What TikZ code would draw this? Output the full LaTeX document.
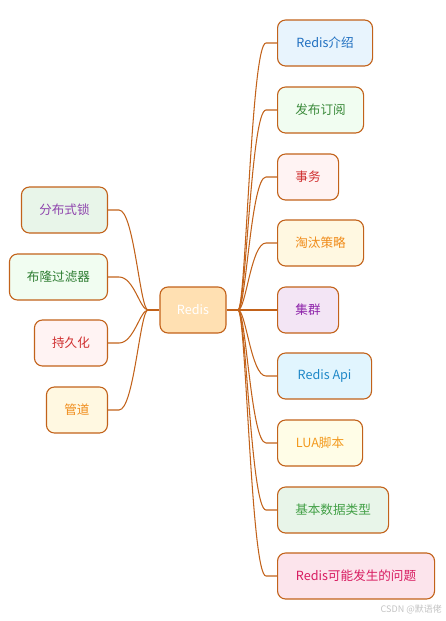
\documentclass[tikz,border=0pt]{standalone}
\usepackage{fontspec}
\setmainfont{Noto Sans CJK SC}
\usetikzlibrary{calc}
\definecolor{edge}{HTML}{C2621A}
\definecolor{fcenter}{HTML}{FFE0B2}
\definecolor{fblue}{RGB}{232,244,253}\definecolor{tblue}{RGB}{31,111,192}
\definecolor{fgreen}{RGB}{241,253,241}\definecolor{tgreen}{RGB}{58,138,58}
\definecolor{fred}{RGB}{255,243,243}\definecolor{tred}{RGB}{208,48,48}
\definecolor{forange}{RGB}{255,248,225}\definecolor{torange}{RGB}{240,140,26}
\definecolor{fpurple}{RGB}{243,229,245}\definecolor{tpurple}{RGB}{142,36,170}
\definecolor{fcyan}{RGB}{225,245,254}\definecolor{tcyan}{RGB}{30,136,200}
\definecolor{fyellow}{RGB}{255,253,231}\definecolor{tyellow}{RGB}{243,154,30}
\definecolor{fmint}{RGB}{232,245,233}\definecolor{tmint}{RGB}{67,160,71}
\definecolor{fpink}{RGB}{252,228,236}\definecolor{tpink}{RGB}{216,27,96}
\definecolor{tviolet}{RGB}{142,68,173}
\definecolor{tdkgreen}{RGB}{46,125,50}
\definecolor{wmgray}{RGB}{195,195,195}
\tikzset{
  box/.style={draw=edge, line width=1.1pt, rounded corners=8pt, minimum height=46pt, inner sep=0pt, font=\fontsize{12.6}{14}\selectfont},
  conn/.style={draw=edge, line width=1.05pt},
}
\begin{document}
\begin{tikzpicture}[x=1pt,y=-1pt]
\useasboundingbox (0,0) rectangle (446,621);
\node[box, fill=fcenter, text=white, minimum width=66pt] (redis) at (193,310) {Redis};
\coordinate (jr) at (238,310);
\coordinate (jl) at (148,310);
% right
\node[box, anchor=west, fill=fblue, text=tblue, minimum width=95pt] (r1) at (277,43) {Redis介绍};
\node[box, anchor=west, fill=fgreen, text=tgreen, minimum width=86pt] (r2) at (277,110) {发布订阅};
\node[box, anchor=west, fill=fred, text=tred, minimum width=61pt] (r3) at (277,177) {事务};
\node[box, anchor=west, fill=forange, text=torange, minimum width=86pt] (r4) at (277,243) {淘汰策略};
\node[box, anchor=west, fill=fpurple, text=tpurple, minimum width=61pt] (r5) at (277,310) {集群};
\node[box, anchor=west, fill=fcyan, text=tcyan, minimum width=94pt] (r6) at (277,376) {Redis Api};
\node[box, anchor=west, fill=fyellow, text=tyellow, minimum width=85pt] (r7) at (277,443) {LUA脚本};
\node[box, anchor=west, fill=fmint, text=tmint, minimum width=111pt] (r8) at (277,510) {基本数据类型};
\node[box, anchor=west, fill=fpink, text=tpink, minimum width=157pt] (r9) at (277,576) {Redis可能发生的问题};
% left
\node[box, anchor=east, fill=fmint, text=tviolet, minimum width=86pt] (l1) at (108,210) {分布式锁};
\node[box, anchor=east, fill=fgreen, text=tdkgreen, minimum width=98pt] (l2) at (108,277) {布隆过滤器};
\node[box, anchor=east, fill=fred, text=tred, minimum width=73pt] (l3) at (108,343) {持久化};
\node[box, anchor=east, fill=forange, text=torange, minimum width=61pt] (l4) at (108,410) {管道};
% connectors
\draw[conn] (redis.east) -- (jr);
\draw[conn] (redis.west) -- (jl);
\foreach \n in {r1,r2,r3,r4,r5,r6,r7,r8,r9}{
  \draw[conn] (jr) .. controls ($(jr)+(8,0)$) and ($(\n.west)+(-26,0)$) .. ($(\n.west)+(-11,0)$) -- (\n.west);
}
\foreach \n in {l1,l2,l3,l4}{
  \draw[conn] (jl) .. controls ($(jl)+(-8,0)$) and ($(\n.east)+(26,0)$) .. ($(\n.east)+(11,0)$) -- (\n.east);
}
\node[anchor=east, text=wmgray, font=\fontsize{9}{10}\selectfont, inner sep=0pt] (wm) at (442,609) {CSDN @默语佬};
\end{tikzpicture}
\end{document}
